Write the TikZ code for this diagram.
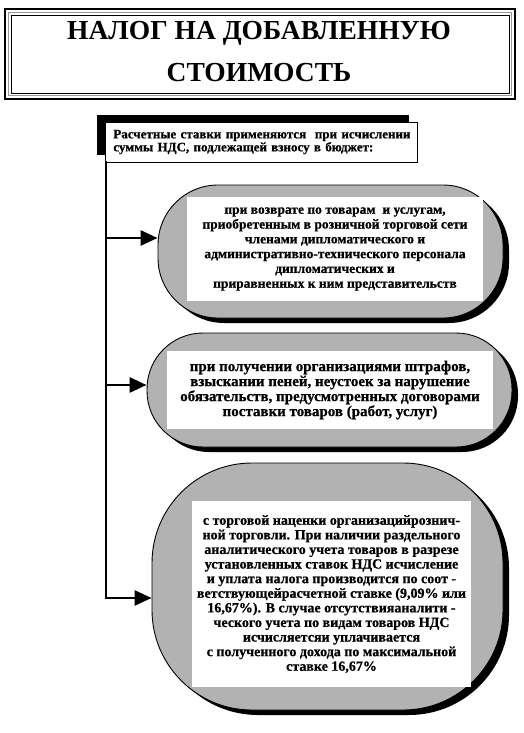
\documentclass[tikz,border=0pt]{standalone}
\usepackage{fontspec}
\setmainfont{Liberation Serif}[BoldFont={Liberation Serif Bold},BoldFeatures={FakeBold=0.7}]
\newfontfamily\ttlfont{Liberation Serif}[BoldFont={Liberation Serif Bold}]
\usetikzlibrary{arrows.meta,shadows}
\begin{document}
\begin{tikzpicture}[x=1pt,y=-1pt,
  trunk/.style={line width=2.8pt},
  conn/.style={line width=2.8pt,-{Triangle[length=17pt,width=15pt]}},
  pill/.style={draw=black,line width=0.9pt,fill=black!30,
    drop shadow={shadow xshift=6pt,shadow yshift=-5pt,fill=black,opacity=1}},
  inner/.style={draw=black,line width=0.6pt,double=white,double distance=1.4pt,
    fill=white,align=center,inner sep=2pt},
  headbox/.style={draw=black,line width=0.8pt,fill=white,
    drop shadow={shadow xshift=-8pt,shadow yshift=7pt,fill=black,opacity=1}},
  titletext/.style={font=\ttlfont\bfseries\fontsize{27.5}{42}\selectfont,align=center}]
\useasboundingbox (0,0) rectangle (524,733);
\fill[white] (0,0) rectangle (524,733);

% title frame
\draw[line width=2.4pt] (5,9) rectangle (515,99);
\draw[line width=1.2pt,black!40] (8.5,12.5) rectangle (511.5,95.5);
\draw[line width=0.7pt] (11,15) rectangle (509,93);
\node[titletext] (title) at (259,51.5) {НАЛОГ НА ДОБАВЛЕННУЮ\\СТОИМОСТЬ};

% header box
\node[headbox,anchor=west,minimum width=312pt,minimum height=40pt,
  text width=296pt,inner xsep=8pt,align=left,
  font=\bfseries\fontsize{13}{13}\selectfont] (head) at (105,142)
  {\mbox{Расчетные ставки применяются\ \ при исчислении}\\суммы НДС, подлежащей взносу в бюджет:};

% rounded boxes
\node[pill,rounded corners=60pt,minimum width=345pt,minimum height=133pt] (b1) at (330.5,251.5) {};
\node[inner,minimum width=294pt,minimum height=102pt,
  font=\bfseries\fontsize{13.5}{14.8}\selectfont] (r1) at (335,249)
  {при возврате по товарам\ \ и услугам,\\приобретенным в розничной торговой сети\\членами дипломатического и\\административно-технического персонала\\дипломатических и\\приравненных к ним представительств};

\node[pill,rounded corners=56pt,minimum width=365pt,minimum height=114pt] (b2) at (329.5,390) {};
\node[inner,minimum width=324pt,minimum height=76pt,
  font=\bfseries\fontsize{15}{15}\selectfont] (r2) at (330,390)
  {при получении организациями штрафов,\\взыскании пеней, неустоек за нарушение\\обязательств, предусмотренных договорами\\поставки товаров (работ, услуг)};

\node[pill,rounded corners=100pt,minimum width=351pt,minimum height=247pt] (b3) at (327.5,586.5) {};
\node[inner,minimum width=277pt,minimum height=184pt,
  font=\bfseries\fontsize{14}{14.6}\selectfont] (r3) at (331.5,594)
  {с торговой наценки организацийрознич-\\ной торговли. При наличии раздельного\\аналитического учета товаров в разрезе\\установленных ставок НДС исчисление\\и уплата налога производится по соот -\\ветствующейрасчетной ставке (9,09\% или\\16,67\%). В случае отсутствияаналити -\\ческого учета по видам товаров НДС\\исчисляетсяи уплачивается\\с полученного дохода по максимальной\\ставке 16,67\%};

% connectors
\coordinate (j0) at (106,161);
\coordinate (j1) at (106,238);
\coordinate (j2) at (106,385);
\coordinate (j3) at (106,598);
\draw[trunk] (j0) -- (j3);
\draw[conn] (j1) -- (j1 -| b1.west);
\draw[conn] (j2) -- (j2 -| b2.west);
\draw[conn] ([xshift=-1.4pt]j3) -- (j3 -| b3.west);
\end{tikzpicture}
\end{document}
